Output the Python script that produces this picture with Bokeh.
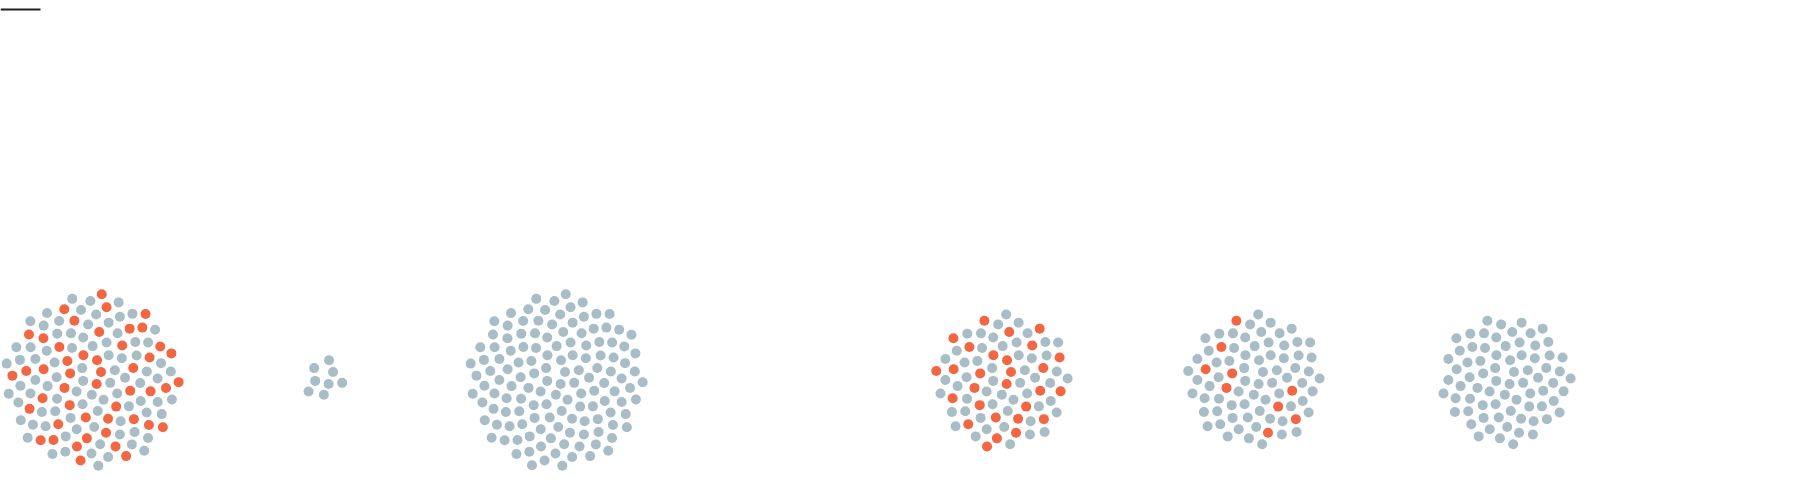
import numpy as np
from bokeh.plotting import figure
from bokeh.models import Range1d, ColumnDataSource
from bokeh.embed import file_html
from bokeh.resources import INLINE

# ---- data: dots per group ----
groups = ["G1", "G2", "G3", "G4", "G5", "G6"]
total_counts = [133, 8, 135, 80, 79, 74]
red_counts = [48, 0, 0, 28, 9, 0]

# ---- layout / style ----
W, H = 1800, 494
centers_x = [92, 324, 556, 1002, 1254, 1505]
center_y = 380
spacing_c = 7.6           # phyllotaxis scale (px)
dot_size = 10
GRAY = "#a9bdc6"
RED = "#f26642"

xs, ys, cols = [], [], []
golden = np.pi * (3 - np.sqrt(5))
beta = np.sqrt(2) - 1
for g, n, nr, cx in zip(groups, total_counts, red_counts, centers_x):
    i = np.arange(n)
    r = spacing_c * np.sqrt(i + 0.5)
    th = i * golden + 0.7
    px = cx + r * np.cos(th)
    py = center_y + r * np.sin(th)
    # deterministic, evenly spread choice of which dots are red
    key = (i * beta + 0.31) % 1.0
    order = np.argsort(key)
    is_red = np.zeros(n, dtype=bool)
    is_red[order[:nr]] = True
    for k in range(n):
        xs.append(px[k]); ys.append(py[k]); cols.append(RED if is_red[k] else GRAY)

src = ColumnDataSource(dict(x=xs, y=ys, c=cols))

p = figure(width=W, height=H, output_backend="svg", toolbar_location=None,
           x_range=Range1d(0, W), y_range=Range1d(H, 0), min_border=0)
p.axis.visible = False
p.grid.visible = False
p.outline_line_color = None
p.background_fill_color = "white"
p.border_fill_color = "white"

p.scatter("x", "y", source=src, size=dot_size, fill_color="c", line_color=None)

# short dark rule at top-left
p.segment(x0=[0], y0=[9], x1=[40], y1=[9], line_color="#231f20", line_width=2)

html = file_html(p, INLINE)
html = html.replace("<head>", "<head><style>body{margin:0;}</style>", 1)
open("out.html", "w").write(html)
